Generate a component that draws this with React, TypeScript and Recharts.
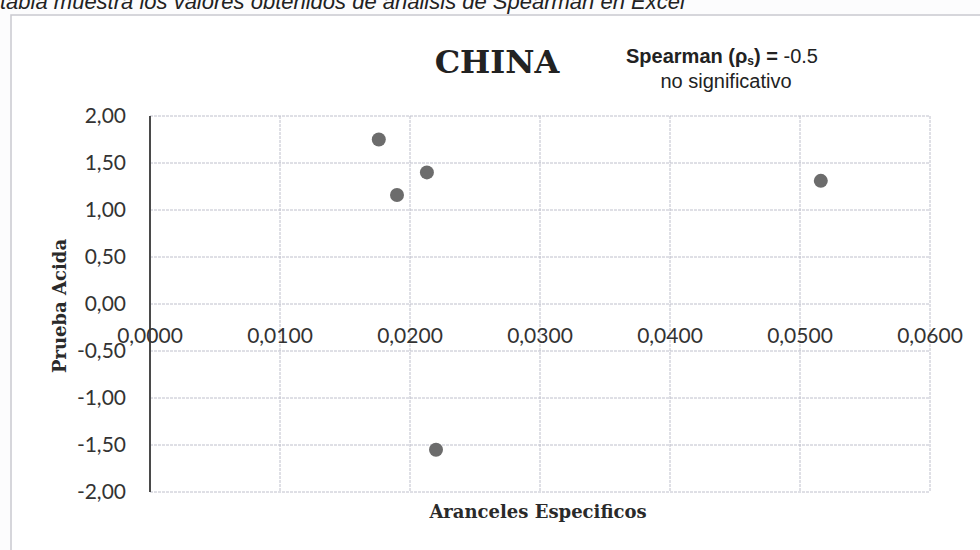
import React from "react";
import {
  CartesianGrid,
  Scatter,
  ScatterChart,
  XAxis,
  YAxis,
} from "recharts";

// Aranceles especificos (x) vs prueba acida (y), China
const arancelesEspecificos = [0.0176, 0.019, 0.0213, 0.022, 0.0516];
const pruebaAcida = [1.75, 1.16, 1.4, -1.55, 1.31];

const xTicks = [0, 0.01, 0.02, 0.03, 0.04, 0.05, 0.06];
const yTicks = [2, 1.5, 1, 0.5, 0, -0.5, -1, -1.5, -2];

const data = arancelesEspecificos.map((x, i) => ({ x, y: pruebaAcida[i] }));

const W = 980;
const H = 550;
const MARGIN = { top: 116, right: 50, bottom: 0, left: 90 };
const X_AXIS_H = 58;
const Y_MIN = -2;
const Y_MAX = 2;
const PLOT_H = H - MARGIN.top - MARGIN.bottom - X_AXIS_H;
// Excel draws the category labels where the value axis crosses zero
const ZERO_Y = MARGIN.top + (PLOT_H * (Y_MAX - 0)) / (Y_MAX - Y_MIN);

const TICK_FONT = "Lato, 'Open Sans', sans-serif";
const SERIF = "'DejaVu Serif', serif";
const SANS = "'Liberation Sans', Arial, sans-serif";
const fmtY = (v: number) => v.toFixed(2).replace(".", ",");
const fmtX = (v: number) => v.toFixed(4).replace(".", ",");

function XTick({ x, payload }: any) {
  return (
    <text
      x={x}
      y={ZERO_Y + 39}
      textAnchor="middle"
      fontFamily={TICK_FONT}
      fontSize={21}
      fill="#333"
    >
      {fmtX(payload.value)}
    </text>
  );
}

function Dot({ cx, cy }: any) {
  return <circle cx={cx} cy={cy} r={7} fill="#6c6c6c" />;
}

export default function App() {
  return (
    <div
      style={{
        position: "absolute",
        left: 0,
        top: 0,
        width: W,
        height: H,
        overflow: "hidden",
        background: "#fcfcfd",
      }}
    >
      <svg
        width={W}
        height={H}
        style={{ position: "absolute", left: 0, top: 0 }}
      >
        <text
          x={0}
          y={9}
          fontFamily={SANS}
          fontStyle="italic"
          fontSize={22}
          fill="#222"
        >
          tabla muestra los valores obtenidos de análisis de Spearman en Excel
        </text>
        <rect
          x={11}
          y={15}
          width={1000}
          height={600}
          fill="#fff"
          stroke="#c9c9cf"
          strokeWidth={1.5}
        />
      </svg>
      <div style={{ position: "absolute", left: 0, top: 0 }}>
        <ScatterChart width={W} height={H} margin={MARGIN}>
          <CartesianGrid stroke="#bfc0cc" strokeDasharray="3 1" />
          <XAxis
            type="number"
            dataKey="x"
            domain={[0, 0.06]}
            ticks={xTicks}
            height={X_AXIS_H}
            axisLine={false}
            tickLine={false}
            tick={<XTick />}
            interval={0}
          />
          <YAxis
            type="number"
            dataKey="y"
            domain={[Y_MIN, Y_MAX]}
            ticks={yTicks}
            width={60}
            interval={0}
            axisLine={{ stroke: "#4a4a4a", strokeWidth: 2 }}
            tickLine={false}
            tickSize={0}
            tickMargin={24}
            tickFormatter={fmtY}
            tick={{ fontFamily: TICK_FONT, fontSize: 21, fill: "#333" }}
          />
          <Scatter data={data} shape={<Dot />} isAnimationActive={false} />
        </ScatterChart>
      </div>
      <svg
        width={W}
        height={H}
        style={{ position: "absolute", left: 0, top: 0, pointerEvents: "none" }}
      >
        <text
          x={497}
          y={73}
          textAnchor="middle"
          fontFamily={SERIF}
          fontWeight="bold"
          fontSize={32}
          fill="#222"
        >
          CHINA
        </text>
        <text
          x={722}
          y={63}
          textAnchor="middle"
          fontFamily={SANS}
          fontSize={20}
          fill="#222"
        >
          <tspan fontWeight="bold">Spearman (ρ</tspan>
          <tspan fontWeight="bold" fontSize={12} dy={2}>
            s
          </tspan>
          <tspan fontWeight="bold" dy={-2}>
            ) =
          </tspan>
          <tspan> -0.5</tspan>
        </text>
        <text
          x={726}
          y={88}
          textAnchor="middle"
          fontFamily={SANS}
          fontSize={20}
          fill="#222"
        >
          no significativo
        </text>
        <text
          x={538}
          y={518}
          textAnchor="middle"
          fontFamily={SERIF}
          fontWeight="bold"
          fontSize={18}
          fill="#2a2a2a"
        >
          Aranceles Especificos
        </text>
        <text
          transform="translate(66 306) rotate(-90)"
          textAnchor="middle"
          fontFamily={SERIF}
          fontWeight="bold"
          fontSize={18}
          fill="#2a2a2a"
        >
          Prueba Acida
        </text>
      </svg>
    </div>
  );
}
